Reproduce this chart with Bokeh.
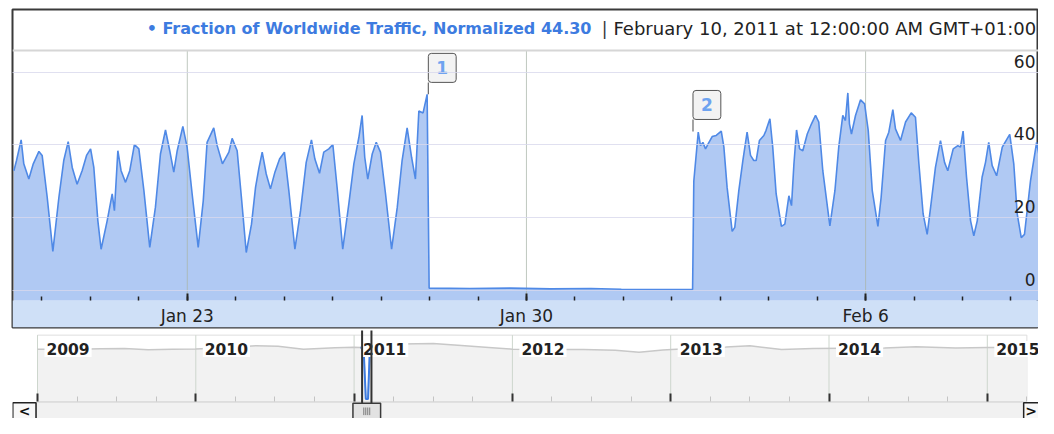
import numpy as np
from bokeh.plotting import figure
from bokeh.layouts import column
from bokeh.models import Range1d, FixedTicker, CustomJSTickFormatter, BoxAnnotation, Span
from bokeh.core.properties import value
from bokeh.embed import file_html
from bokeh.resources import INLINE

# ------------------------------------------------------------------ data
series_name = "Fraction of Worldwide Traffic, Normalized"
base_time = "2011-01-23T00:00"          # hours below counted from here (GMT+01:00)
last_stamp = "February 10, 2011 at 12:00:00 AM GMT+01:00"

hours = [
    -85.9, -84.6, -82.3, -81.0, -78.5, -76.3, -73.5, -71.9, -69.4, -66.6,
    -63.6, -61.2, -59.0, -57.0, -54.6, -52.1, -49.9, -47.9, -46.3, -44.3,
    -42.7, -39.7, -37.2, -36.1, -34.4, -32.8, -30.6, -28.5, -26.2, -24.0,
    -21.5, -18.6, -15.8, -13.3, -10.8, -8.7, -6.7, -5.0, -2.2, -0.1,
    2.4, 5.4, 7.9, 9.8, 13.1, 14.8, 17.4, 20.6,
    22.2, 24.7, 26.8, 29.2, 31.8, 33.8, 35.4, 37.1, 39.1, 41.2,
    43.4, 45.7, 48.1, 50.3, 53.3, 56.1, 58.9, 61.5, 63.2, 65.5,
    67.6, 70.1, 72.1, 74.2, 77.0, 80.0, 82.5, 85.0, 86.6, 87.9,
    89.4, 91.6, 93.6, 95.7, 98.2, 101.2, 104.0, 106.4, 108.9, 111.1,
    113.0, 114.7, 116.8, 118.8, 119.8,
    140.0, 160.0, 180.0, 200.0, 215.0, 230.0, 250.3,
    250.9, 253.1, 254.2, 255.4, 256.7, 258.0, 260.0, 262.0, 264.5, 265.8,
    267.4, 269.9, 271.2, 273.2, 275.2, 277.3, 279.0, 280.6, 281.8, 283.4,
    285.6, 286.7, 288.6, 290.0, 291.7, 294.3, 296.0, 298.0, 299.3, 300.5,
    301.8, 303.3, 304.9, 307.1, 309.2, 311.2, 312.8, 314.8, 318.3, 320.8,
    322.7, 324.7, 326.0, 327.2, 328.0, 329.0, 331.0, 333.5, 335.5, 337.3,
    339.3,
    342.1, 343.7, 345.9, 347.5, 349.5, 350.8, 353.3, 355.8, 358.6, 360.7,
    362.4, 364.5, 366.5, 368.2, 370.6, 373.1, 375.1, 376.7, 379.4, 381.7,
    383.0, 384.3, 386.0, 388.0, 389.6, 391.3, 393.7, 395.4, 397.0, 398.7,
    400.9, 403.7, 405.8, 407.4, 409.4, 411.1, 413.1, 414.7, 417.7, 420.7,
    422.6, 424.6, 427.6, 429.6, 432.0,
]
traffic = [
    32.9, 35.7, 41.4, 34.8, 30.6, 34.8, 38.2, 37.1, 25.6, 10.7,
    25.6, 35.7, 40.9, 33.8, 29.2, 32.9, 37.1, 38.9, 33.8, 19.1,
    11.3, 19.1, 26.5, 21.9, 38.4, 32.9, 29.7, 32.9, 40.1, 38.9,
    27.4, 11.8, 22.8, 37.5, 44.1, 38.4, 32.5, 38.4, 45.1, 39.4,
    26.5, 11.8, 24.6, 40.7, 44.7, 39.8, 34.8, 38.0,
    41.8, 38.4, 25.6, 10.4, 18.2, 28.3, 33.4, 38.0, 32.0, 27.9,
    32.5, 36.1, 38.0, 27.4, 11.3, 21.9, 35.2, 41.4, 36.1, 32.2,
    38.0, 38.9, 40.1, 28.3, 11.3, 23.7, 34.8, 42.1, 48.1, 36.6,
    30.6, 37.5, 40.7, 38.0, 26.5, 11.3, 22.8, 35.7, 44.7, 36.6,
    30.6, 49.3, 48.8, 53.9, 0.6,
    0.5, 0.6, 0.4, 0.5, 0.3, 0.2, 0.2,
    30.0, 43.5, 39.8, 40.7, 38.9, 40.3, 42.3, 42.6, 43.8, 39.4,
    28.3, 16.2, 17.3, 27.4, 35.7, 43.5, 37.1, 35.7, 35.7, 41.2,
    42.6, 44.0, 47.2, 39.4, 26.5, 17.6, 18.2, 26.0, 23.3, 34.8,
    44.1, 38.9, 38.4, 43.0, 45.8, 48.1, 46.3, 32.9, 17.7, 27.4,
    39.4, 48.1, 46.7, 54.3, 45.8, 43.0, 48.1, 52.4, 51.3, 44.0,
    27.4,
    17.6, 25.6, 41.2, 43.5, 49.7, 44.4, 41.2, 46.3, 48.8, 47.6,
    34.8, 21.0, 15.4, 22.8, 33.8, 41.2, 35.2, 32.9, 38.9, 39.8,
    39.4, 43.8, 31.1, 19.1, 15.0, 19.1, 31.1, 35.2, 40.7, 34.3,
    31.5, 39.4, 41.4, 42.9, 34.8, 21.0, 14.5, 15.4, 30.2, 40.7,
    35.2, 31.5, 39.4, 41.9, 44.3,
]
assert len(hours) == len(traffic)

event_hours = [119.4, 250.5]
event_values = [53.9, 43.7]
event_labels = ["1", "2"]

x_tick_hours = [0, 168, 336]
x_tick_labels = ["Jan 23", "Jan 30", "Feb 6"]
y_ticks = [0, 20, 40, 60]
y_tick_labels = ["0", "20", "40", "60"]

ov_years = [2009.0, 2009.25, 2009.4, 2009.55, 2009.7, 2009.85, 2010.0, 2010.2, 2010.38,
            2010.52, 2010.68, 2010.88, 2011.0, 2011.04, 2011.06, 2011.074, 2011.088,
            2011.10, 2011.13, 2011.3, 2011.5, 2011.7, 2011.85, 2012.0, 2012.25, 2012.45,
            2012.65, 2012.8, 2012.95, 2013.15, 2013.35, 2013.5, 2013.7, 2013.9, 2014.1,
            2014.35, 2014.55, 2014.8, 2015.0, 2015.25]
ov_values = [39.7, 39.7, 40.1, 40.3, 39.2, 39.6, 39.9, 41.0, 42.3,
             41.9, 39.7, 40.8, 41.2, 41.0, 40.5, 2.0, 2.0,
             41.5, 42.0, 43.6, 44.0, 42.3, 41.0, 39.7, 39.5, 39.5,
             38.8, 37.3, 39.1, 40.4, 41.3, 42.3, 39.5, 40.2, 40.4,
             40.6, 41.5, 40.6, 41.0, 41.0]
year_ticks = [2009, 2010, 2011, 2012, 2013, 2014, 2015]
year_labels = ["2009", "2010", "2011", "2012", "2013", "2014", "2015"]

# ------------------------------------------------------------------ layout helpers
FONT = "DejaVu Sans"
W, H = 1038, 418                 # page size that fits the window
H1 = 330                         # main panel height
H2 = H - H1                      # overview + scrollbar height
BASE_MS = int(np.datetime64(base_time, "ms").astype(np.int64))


def ms(h):
    return BASE_MS + h * 3600000.0


def hx(px):             # pixel column -> hours
    return (px - 186.8) / 48.45 * 24.0


def vy(py):             # pixel row -> value
    return (289.8 - py) / 3.635


t_ms = [ms(h) for h in hours]
ev_ms = [ms(h) for h in event_hours]
major_ms = [ms(h) for h in x_tick_hours]
minor_ms = [ms(h) for h in range(-72, 433, 24)]
AREA_BOTTOM = vy(300)
HEADER_LINE = vy(50)
POLE = 3.3
L1, T1, B1 = 12, 9, 327

# ------------------------------------------------------------------ main chart
p = figure(width=W, height=H1, x_axis_type="datetime", output_backend="svg",
           toolbar_location=None,
           x_range=Range1d(ms(hx(L1)), ms(hx(W))),
           y_range=Range1d(vy(B1), vy(T1)),
           min_border_left=L1, min_border_right=0, min_border_top=T1,
           min_border_bottom=H1 - B1)
p.outline_line_color = "#3a3a3a"
p.outline_line_width = 2
p.background_fill_color = "white"
p.border_fill_color = "white"
p.yaxis.visible = False
p.xgrid.visible = False
p.ygrid.ticker = FixedTicker(ticks=y_ticks)
p.ygrid.grid_line_color = "#d8d8ec"
p.ygrid.grid_line_alpha = 0.8
p.ygrid.level = "annotation"

ax = p.xaxis[0]
ax.fixed_location = AREA_BOTTOM
ax.ticker = FixedTicker(ticks=major_ms, minor_ticks=minor_ms)
ax.formatter = CustomJSTickFormatter(args=dict(pos=major_ms, labels=x_tick_labels),
                                     code="const i = pos.indexOf(tick); return i >= 0 ? labels[i] : '';")
ax.axis_line_color = None
ax.major_tick_in = 7
ax.major_tick_out = 0
ax.minor_tick_in = 4
ax.minor_tick_out = 0
ax.major_tick_line_color = "#222222"
ax.major_tick_line_width = 2
ax.minor_tick_line_color = "#222222"
ax.minor_tick_line_width = 1.5
ax.major_label_standoff = 5
ax.major_label_text_font = FONT
ax.major_label_text_font_size = "17px"
ax.major_label_text_color = "#222222"

p.add_layout(BoxAnnotation(top=AREA_BOTTOM, fill_color="#cfe0f7", fill_alpha=1,
                           line_color=None, level="underlay"))
p.add_layout(Span(location=HEADER_LINE, dimension="width", line_color="#d6d6d6", line_width=2))

p.varea(x=t_ms, y1=AREA_BOTTOM, y2=traffic, fill_color="#b0c9f3", fill_alpha=1)
p.segment(x0=major_ms, y0=AREA_BOTTOM, x1=major_ms, y1=HEADER_LINE,
          line_color="#aab4aa", line_alpha=0.75, line_width=1)
p.line(t_ms, traffic, line_color="#4f89e6", line_width=1.6)

# y tick labels inside the plot, right side
p.text(x=[ms(hx(1035))] * len(y_ticks), y=y_ticks, text=y_tick_labels,
       x_offset=0, y_offset=-11, text_align="right", text_baseline="middle",
       text_font=value(FONT), text_font_size="17px", text_color="#222222")

# event flags
p.segment(x0=ev_ms, y0=event_values, x1=ev_ms, y1=[v + POLE for v in event_values],
          line_color="#666666", line_width=1.2)
p.text(x=ev_ms, y=[v + POLE for v in event_values], text=event_labels,
       anchor="bottom_left", padding=(8, 8), border_radius=3,
       background_fill_color="#f3f3f3", border_line_color="#555555", border_line_width=1,
       text_font=value(FONT), text_font_style="bold", text_font_size="17px",
       text_color="#6ea3f0")

# header legend
legend_text = "\u2022 " + series_name + " " + f"{traffic[-1]:.2f}"
p.text(x=[ms(hx(591))], y=[vy(28)], text=[legend_text], text_align="right",
       text_baseline="middle", text_font=value(FONT), text_font_style="bold",
       text_font_size="16px", text_color="#3d7be0")
p.text(x=[ms(hx(604))], y=[vy(28)], text=["|"], text_align="center",
       text_baseline="middle", text_font=value(FONT), text_font_size="17px",
       text_color="#333333")
p.text(x=[ms(hx(613))], y=[vy(28)], text=[last_stamp], text_align="left",
       text_baseline="middle", text_font=value(FONT), text_font_size="18px",
       text_color="#222222")

# ------------------------------------------------------------------ overview / navigator
PX_YEAR = 160.2          # reference spacing of the overview years
PX_YEAR_FIT = 158.3      # slightly narrower so the last year label fits
X2009 = 37.0             # page column of the 2009 line


def yr(px):             # reference pixel column -> fractional year
    return 2009.0 + (px - 35.0) / PX_YEAR


def nv(py):             # reference pixel row -> overview value
    return (414.0 - py) / 1.56


def year_frac(h):
    return 2011.0 + (22.0 + h / 24.0) / 365.0


sel0 = year_frac(hours[0])
sel1 = year_frac(hours[-1])
selc = 0.5 * (sel0 + sel1)

# the column aligns this frame with the main frame (left edge at L1)
q = figure(width=W, height=H2, output_backend="svg", toolbar_location=None,
           x_range=Range1d(2009.0 - (X2009 - L1) / PX_YEAR_FIT,
                           2009.0 + (W - X2009) / PX_YEAR_FIT),
           y_range=Range1d(nv(434), nv(330)),
           min_border_left=L1, min_border_right=0, min_border_top=0, min_border_bottom=0)
q.outline_line_color = None
q.grid.visible = False
q.yaxis.visible = False
qa = q.xaxis[0]
qa.fixed_location = 0
qa.ticker = FixedTicker(ticks=year_ticks,
                        minor_ticks=[y + k * 0.25 for y in year_ticks for k in range(1, 4)])
qa.axis_line_color = None
qa.major_tick_in = 8
qa.major_tick_out = 0
qa.minor_tick_in = 5
qa.minor_tick_out = 0
qa.major_tick_line_color = "#333333"
qa.major_tick_line_width = 2
qa.minor_tick_line_color = "#c4c4c4"
qa.minor_tick_line_width = 1
qa.major_label_text_color = None

NAV_TOP = nv(335.5)
q.quad(left=[year_ticks[0]], right=[ov_years[-1]], bottom=[0], top=[NAV_TOP],
       fill_color="white", line_color="#dedede", line_width=1)
q.varea(x=ov_years, y1=0, y2=ov_values, fill_color="#f2f2f2")
q.segment(x0=year_ticks, y0=0, x1=year_ticks, y1=NAV_TOP, line_color="#cdd6cd", line_width=1)
q.line(ov_years, ov_values, line_color="#c8c8c8", line_width=1.5)
ov_y = np.array(ov_years)
ov_v = np.array(ov_values)
m = (ov_y >= sel0 - 0.012) & (ov_y <= sel1 + 0.012)
q.line(ov_y[m], ov_v[m], line_color="#3d7be0", line_width=2)

q.text(x=year_ticks, y=[nv(352)] * len(year_ticks), text=year_labels, x_offset=7,
       text_align="left", text_baseline="middle", padding=2,
       background_fill_color="white", text_font=value(FONT), text_font_style="bold",
       text_font_size="15.5px", text_color="#222222")

# scrollbar track, arrows, selection channel and thumb
q.quad(left=[yr(34)], right=[yr(1033)], top=[nv(414.5)], bottom=[nv(440)],
       fill_color="#f1f1f1", line_color="#d0d0d0", line_width=1)
q.quad(left=[yr(10), yr(1033)], right=[yr(33.5), yr(1062)], top=[nv(415.5)] * 2,
       bottom=[nv(440)] * 2, fill_color="#f8f8f8", line_color="#222222", line_width=1.5)
q.text(x=[yr(22), yr(1040.5)], y=[nv(425)] * 2, text=["<", ">"], text_align="center",
       text_baseline="middle", text_font=value(FONT), text_font_style="bold",
       text_font_size="14px", text_color="#111111")
half = 14.0 / PX_YEAR
q.segment(x0=[sel0, sel1], y0=[nv(326)] * 2, x1=[sel0, sel1], y1=[nv(416)] * 2,
          line_color="#333333", line_width=2)
q.quad(left=[selc - half], right=[selc + half], top=[nv(416)], bottom=[nv(440)],
       fill_color="#e2e2e2", line_color="#3a3a3a", line_width=1.5)
grip = [selc + k / PX_YEAR for k in (-3, -1, 1, 3)]
q.segment(x0=grip, y0=[nv(421)] * 4, x1=grip, y1=[nv(430)] * 4,
          line_color="#7a7a7a", line_width=1)

layout = column(p, q, spacing=0)
open("out.html", "w").write(file_html(layout, INLINE))
